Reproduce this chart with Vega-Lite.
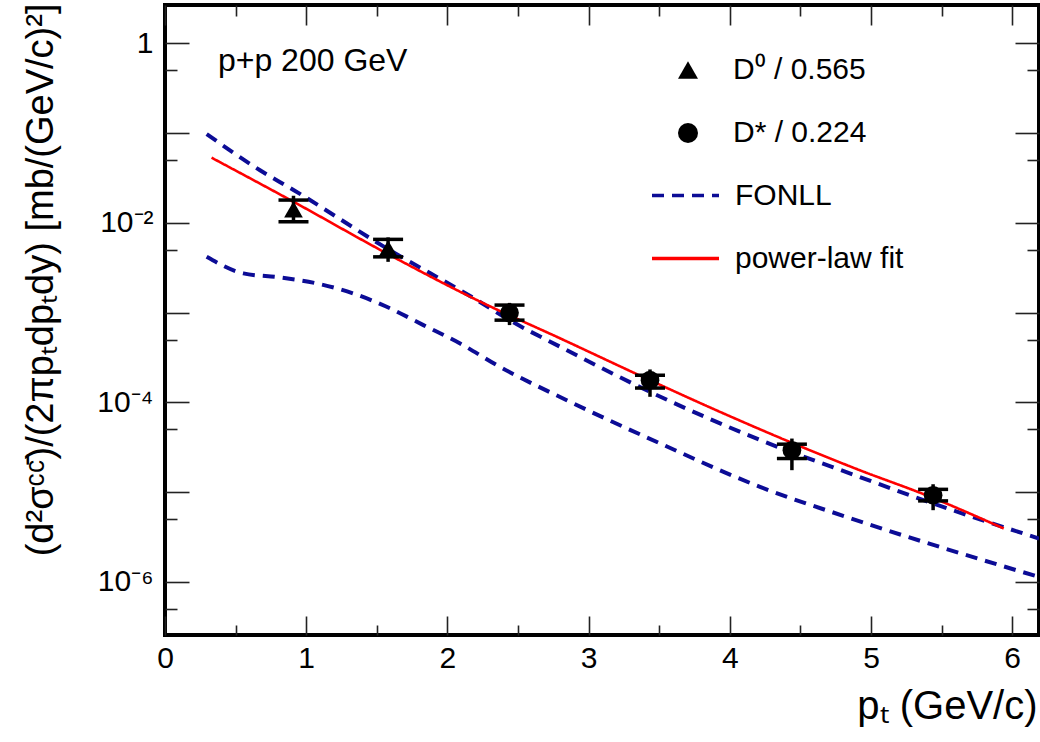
{
  "$schema": "https://vega.github.io/schema/vega-lite/v6.json",
  "width": 874,
  "height": 630,
  "autosize": {"type": "none"},
  "padding": {"left": 165, "top": 5, "right": 1, "bottom": 107},
  "background": "white",
  "config": {
    "font": "Liberation Sans",
    "view": {"stroke": "black", "strokeWidth": 4},
    "axis": {"domain": false, "grid": false, "labelColor": "black", "titleColor": "black", "tickColor": "#222222", "tickWidth": 1.6, "labelFont": "Liberation Sans", "titleFont": "Liberation Sans", "titleFontWeight": "normal"},
    "legend": {"labelFont": "Liberation Sans", "labelColor": "black", "labelFontSize": 30, "labelLimit": 400}
  },
  "datasets": {
    "pts": [
      {"pt": 0.91, "val": 0.0141, "statLo": 0.0105, "statHi": 0.0200, "sysLo": 0.01026, "sysHi": 0.0179, "particle": "D⁰ / 0.565"},
      {"pt": 1.58, "val": 0.00519, "statLo": 0.00367, "statHi": 0.00687, "sysLo": 0.00417, "sysHi": 0.00653, "particle": "D⁰ / 0.565"},
      {"pt": 2.44, "val": 0.000993, "statLo": 0.000724, "statHi": 0.00128, "sysLo": 0.000822, "sysHi": 0.00121, "particle": "D* / 0.224"},
      {"pt": 3.435, "val": 0.000176, "statLo": 0.000115, "statHi": 0.000232, "sysLo": 0.000144, "sysHi": 0.000200, "particle": "D* / 0.224"},
      {"pt": 4.44, "val": 0.0000292, "statLo": 0.0000175, "statHi": 0.0000394, "sysLo": 0.0000236, "sysHi": 0.0000341, "particle": "D* / 0.224"},
      {"pt": 5.44, "val": 0.0000092, "statLo": 0.00000627, "statHi": 0.0000122, "sysLo": 0.00000796, "sysHi": 0.0000107, "particle": "D* / 0.224"}
    ],
    "fonll": [
      {"pt": 0.295, "y": 0.0975, "model": "FONLL", "curve": "upper"},
      {"pt": 0.67, "y": 0.0387, "model": "FONLL", "curve": "upper"},
      {"pt": 0.91, "y": 0.0232, "model": "FONLL", "curve": "upper"},
      {"pt": 1.57, "y": 0.00519, "model": "FONLL", "curve": "upper"},
      {"pt": 2.21, "y": 0.001374, "model": "FONLL", "curve": "upper"},
      {"pt": 2.44, "y": 0.000822, "model": "FONLL", "curve": "upper"},
      {"pt": 2.80, "y": 0.000414, "model": "FONLL", "curve": "upper"},
      {"pt": 3.435, "y": 0.0001306, "model": "FONLL", "curve": "upper"},
      {"pt": 4.214, "y": 0.000038, "model": "FONLL", "curve": "upper"},
      {"pt": 4.92, "y": 0.00001472, "model": "FONLL", "curve": "upper"},
      {"pt": 5.44, "y": 0.00000745, "model": "FONLL", "curve": "upper"},
      {"pt": 6.19, "y": 0.00000303, "model": "FONLL", "curve": "upper"},
      {"pt": 0.295, "y": 0.00418, "model": "FONLL", "curve": "lower"},
      {"pt": 0.555, "y": 0.00273, "model": "FONLL", "curve": "lower"},
      {"pt": 0.815, "y": 0.00246, "model": "FONLL", "curve": "lower"},
      {"pt": 1.074, "y": 0.00211, "model": "FONLL", "curve": "lower"},
      {"pt": 1.334, "y": 0.00163, "model": "FONLL", "curve": "lower"},
      {"pt": 1.57, "y": 0.001159, "model": "FONLL", "curve": "lower"},
      {"pt": 1.83, "y": 0.000724, "model": "FONLL", "curve": "lower"},
      {"pt": 2.09, "y": 0.000452, "model": "FONLL", "curve": "lower"},
      {"pt": 2.35, "y": 0.000259, "model": "FONLL", "curve": "lower"},
      {"pt": 2.845, "y": 0.0001054, "model": "FONLL", "curve": "lower"},
      {"pt": 3.506, "y": 0.0000348, "model": "FONLL", "curve": "lower"},
      {"pt": 4.214, "y": 0.0000114, "model": "FONLL", "curve": "lower"},
      {"pt": 4.85, "y": 0.00000513, "model": "FONLL", "curve": "lower"},
      {"pt": 6.19, "y": 0.00000113, "model": "FONLL", "curve": "lower"}
    ],
    "fit": [
      {"pt": 0.33, "y": 0.0531, "model": "power-law fit"},
      {"pt": 0.91, "y": 0.01714, "model": "power-law fit"},
      {"pt": 1.57, "y": 0.00456, "model": "power-law fit"},
      {"pt": 2.21, "y": 0.001374, "model": "power-law fit"},
      {"pt": 2.80, "y": 0.000514, "model": "power-law fit"},
      {"pt": 3.435, "y": 0.000176, "model": "power-law fit"},
      {"pt": 3.93, "y": 0.0000782, "model": "power-law fit"},
      {"pt": 4.45, "y": 0.0000348, "model": "power-law fit"},
      {"pt": 4.92, "y": 0.0000175, "model": "power-law fit"},
      {"pt": 5.39, "y": 0.00000923, "model": "power-law fit"},
      {"pt": 5.94, "y": 0.00000392, "model": "power-law fit"}
    ]
  },
  "layer": [
    {
      "data": {"name": "fonll"},
      "mark": {"type": "line", "strokeWidth": 4, "interpolate": "monotone", "clip": true},
      "encoding": {
        "x": {"field": "pt", "type": "quantitative", "scale": {"type": "linear", "domain": [0, 6.19], "nice": false, "zero": false},
          "axis": {"orient": "bottom", "values": [0, 1, 2, 3, 4, 5, 6], "format": "d", "labelFontSize": 30, "labelPadding": 27, "tickSize": -19, "labelFlush": false, "labelOverlap": false, "labelBound": false,
            "title": "pₜ (GeV/c)", "titleFontSize": 40, "titleX": 872, "titleY": 83, "titleAlign": "right", "titleBaseline": "alphabetic", "titleAnchor": "end"}},
        "y": {"field": "y", "type": "quantitative", "scale": {"type": "log", "domain": [2.55e-7, 2.67], "nice": false},
          "axis": {"orient": "left", "values": [1, 0.1, 0.01, 0.001, 0.0001, 0.00001, 0.000001],
            "labelExpr": "datum.value == 1 ? '1' : datum.value == 0.01 ? '10⁻²' : datum.value == 0.0001 ? '10⁻⁴' : datum.value == 0.000001 ? '10⁻⁶' : ''",
            "labelFontSize": 30, "labelPadding": 36, "tickSize": -24, "labelFlush": false, "labelOverlap": false, "labelBound": false, "labelBaseline": "middle",
            "title": "(d²σᶜᶜ̄)/(2πpₜdpₜdy) [mb/(GeV/c)²]", "titleFontSize": 38, "titleAngle": 270, "titleAlign": "right", "titleBaseline": "alphabetic", "titleX": -113, "titleY": -2, "titleAnchor": "end"}},
        "color": {"field": "model", "type": "nominal", "scale": {"domain": ["FONLL", "power-law fit"], "range": ["#0c0c96", "#ff0000"]},
          "legend": {"title": null, "orient": "none", "legendX": 485, "legendY": 155, "symbolType": "stroke", "symbolSize": 4489, "symbolStrokeWidth": 3.5, "labelFontSize": 30, "rowPadding": 12, "padding": 0, "labelOffset": 14}},
        "strokeDash": {"field": "model", "type": "nominal", "scale": {"domain": ["FONLL", "power-law fit"], "range": [[12, 8], [1, 0]]},
          "legend": {"title": null, "orient": "none", "legendX": 485, "legendY": 155, "symbolType": "stroke", "symbolSize": 4489, "symbolStrokeWidth": 3.5, "labelFontSize": 30, "rowPadding": 12, "padding": 0, "labelOffset": 14}},
        "detail": {"field": "curve"}
      }
    },
    {
      "data": {"name": "fit"},
      "mark": {"type": "line", "strokeWidth": 2.6, "interpolate": "monotone", "clip": true},
      "encoding": {
        "x": {"field": "pt", "type": "quantitative", "scale": {"type": "linear", "domain": [0, 6.19], "nice": false, "zero": false},
          "axis": {"orient": "top", "values": [0, 1, 2, 3, 4, 5, 6], "labels": false, "tickSize": -20, "title": null}},
        "y": {"field": "y", "type": "quantitative", "scale": {"type": "log", "domain": [2.55e-7, 2.67], "nice": false},
          "axis": {"orient": "right", "values": [1, 0.1, 0.01, 0.001, 0.0001, 0.00001, 0.000001], "labels": false, "tickSize": -24, "title": null}},
        "color": {"field": "model", "type": "nominal", "scale": {"domain": ["FONLL", "power-law fit"], "range": ["#0c0c96", "#ff0000"]},
          "legend": {"title": null, "orient": "none", "legendX": 485, "legendY": 155, "symbolType": "stroke", "symbolSize": 4489, "symbolStrokeWidth": 3.5, "labelFontSize": 30, "rowPadding": 12, "padding": 0, "labelOffset": 14}},
        "strokeDash": {"field": "model", "type": "nominal", "scale": {"domain": ["FONLL", "power-law fit"], "range": [[12, 8], [1, 0]]},
          "legend": {"title": null, "orient": "none", "legendX": 485, "legendY": 155, "symbolType": "stroke", "symbolSize": 4489, "symbolStrokeWidth": 3.5, "labelFontSize": 30, "rowPadding": 12, "padding": 0, "labelOffset": 14}}
      }
    },
    {
      "data": {"name": "pts"},
      "mark": {"type": "rule", "color": "black", "strokeWidth": 3.5},
      "encoding": {
        "x": {"field": "pt", "type": "quantitative",
          "axis": {"orient": "bottom", "values": [0.5, 1.5, 2.5, 3.5, 4.5, 5.5], "labels": false, "tickSize": -10, "title": null}},
        "y": {"field": "statLo", "type": "quantitative",
          "axis": {"orient": "left", "values": [0.5, 0.05, 0.005, 0.0005, 0.00005, 0.000005, 5e-7], "labels": false, "tickSize": -12, "title": null}},
        "y2": {"field": "statHi"}
      }
    },
    {
      "data": {"name": "pts"},
      "mark": {"type": "tick", "orient": "horizontal", "color": "black", "size": 30, "thickness": 3.5, "opacity": 1},
      "encoding": {
        "x": {"field": "pt", "type": "quantitative",
          "axis": {"orient": "top", "values": [0.5, 1.5, 2.5, 3.5, 4.5, 5.5], "labels": false, "tickSize": -11, "title": null}},
        "y": {"field": "sysHi", "type": "quantitative",
          "axis": {"orient": "right", "values": [0.5, 0.05, 0.005, 0.0005, 0.00005, 0.000005, 5e-7], "labels": false, "tickSize": -12, "title": null}}
      }
    },
    {
      "data": {"name": "pts"},
      "mark": {"type": "tick", "orient": "horizontal", "color": "black", "size": 30, "thickness": 3.5, "opacity": 1},
      "encoding": {
        "x": {"field": "pt", "type": "quantitative", "axis": null},
        "y": {"field": "sysLo", "type": "quantitative", "axis": null}
      }
    },
    {
      "data": {"name": "pts"},
      "mark": {"type": "point", "filled": true, "color": "black", "size": 350, "opacity": 1},
      "encoding": {
        "x": {"field": "pt", "type": "quantitative", "axis": null},
        "y": {"field": "val", "type": "quantitative", "axis": null},
        "shape": {"field": "particle", "type": "nominal", "scale": {"domain": ["D⁰ / 0.565", "D* / 0.224"], "range": ["triangle-up", "circle"]},
          "legend": {"title": null, "orient": "none", "legendX": 508, "legendY": 50, "symbolSize": 400, "symbolFillColor": "black", "symbolStrokeColor": "black", "symbolStrokeWidth": 0, "labelFontSize": 30, "rowPadding": 33, "padding": 0, "labelOffset": 30}}
      }
    },
    {
      "data": {"values": [{}]},
      "mark": {"type": "text", "text": "p+p 200 GeV", "align": "left", "baseline": "alphabetic", "fontSize": 32, "font": "Liberation Sans", "color": "black"},
      "encoding": {
        "x": {"datum": 0.375, "type": "quantitative", "axis": null},
        "y": {"datum": 0.491, "type": "quantitative", "axis": null}
      }
    }
  ],
  "resolve": {"axis": {"x": "independent", "y": "independent"}}
}
